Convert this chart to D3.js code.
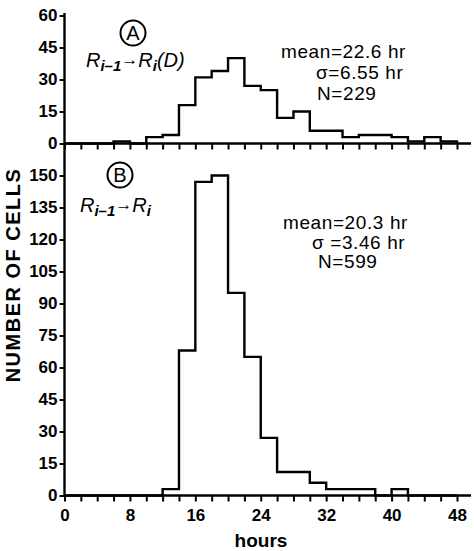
<!DOCTYPE html>
<html lang="en">
<head>
<meta charset="utf-8">
<title>Cell cycle histograms</title>
<script src="https://cdn.jsdelivr.net/npm/d3@7"></script>
<style>
  body { margin: 0; background: #fff; }
  svg text { font-family: "Liberation Sans", Arial, sans-serif; fill: #000; }
</style>
</head>
<body>
<svg id="chart" width="474" height="551"></svg>
<script>
// bin start (hours), bins are 2 hr wide
var hours = [0, 2, 4, 6, 8, 10, 12, 14, 16, 18, 20, 22, 24, 26, 28, 30, 32, 34, 36, 38, 40, 42, 44, 46];
// panel A : Ri-1 -> Ri(D)
var countsA = [0, 0, 0, 1, 0, 3, 4, 18, 31, 34, 40, 27, 25, 12, 15, 6, 6, 3, 4, 4, 3, 1, 3, 1];
// panel B : Ri-1 -> Ri
var countsB = [0, 0, 0, 0, 0, 0, 3, 68, 147, 150, 95, 65, 27, 11, 11, 6, 3, 3, 3, 0, 3, 0, 0, 0];

var xTicks = [0, 2, 4, 6, 8, 10, 12, 14, 16, 18, 20, 22, 24, 26, 28, 30, 32, 34, 36, 38, 40, 42, 44, 46, 48];
var xLabels = [0, 8, 16, 24, 32, 40, 48];
var yTicksA = [0, 15, 30, 45, 60];
var yTicksB = [0, 15, 30, 45, 60, 75, 90, 105, 120, 135, 150];

var statsA = ["mean=22.6 hr", "\u03c3=6.55 hr", "N=229"];
var statsB = ["mean=20.3 hr", "\u03c3 =3.46 hr", "N=599"];

var svg = d3.select("#chart");

var x = d3.scaleLinear().domain([0, 48]).range([64.5, 457]);
var yA = d3.scaleLinear().domain([0, 60]).range([143.5, 15.5]);
var yB = d3.scaleLinear().domain([0, 150]).range([495.5, 175.5]);

var sw = 2.4;

// x axes (minor ticks every 2 hr)
function xAxis(y0, withLabels) {
  var ax = d3.axisBottom(x).tickValues(xTicks).tickSize(6).tickSizeOuter(0)
    .tickFormat(function(d){ return withLabels && xLabels.indexOf(d) >= 0 ? d : ""; });
  var g = svg.append("g").attr("transform", "translate(0," + y0 + ")").call(ax);
  g.select(".domain").remove();
  g.selectAll(".tick line").attr("stroke", "#000").attr("stroke-width", 2);
  g.selectAll(".tick text").attr("dy", "0.95em").style("font-size", "17px").style("font-weight", "bold");
  svg.append("line").attr("x1", x(0)).attr("x2", x(48) + 14)
    .attr("y1", y0).attr("y2", y0).attr("stroke", "#000").attr("stroke-width", sw);
}
xAxis(yA(0), false);
xAxis(yB(0), true);

// y axes
function yAxis(scale, vals) {
  var ax = d3.axisLeft(scale).tickValues(vals).tickSize(5).tickSizeOuter(0);
  var g = svg.append("g").attr("transform", "translate(" + x(0) + ",0)").call(ax);
  g.select(".domain").remove();
  g.selectAll(".tick line").attr("stroke", "#000").attr("stroke-width", 2);
  g.selectAll(".tick text").attr("x", -7).style("font-size", "17px").style("font-weight", "bold");
}
yAxis(yA, yTicksA);
yAxis(yB, yTicksB);
svg.append("line").attr("x1", x(0)).attr("x2", x(0)).attr("y1", 13).attr("y2", yB(0) + 1)
  .attr("stroke", "#000").attr("stroke-width", sw);

// histogram outlines
function steps(counts, y) {
  var line = d3.line().x(function(d){ return x(d[0]); }).y(function(d){ return y(d[1]); })
    .curve(d3.curveStepAfter);
  var p = hours.map(function(h, i){ return [h, counts[i]]; });
  p.push([48, 0]);
  svg.append("path").attr("d", line(p)).attr("fill", "none")
    .attr("stroke", "#000").attr("stroke-width", sw);
}
steps(countsA, yA);
steps(countsB, yB);

// panel letters
function letter(cx, cy, t) {
  svg.append("circle").attr("cx", cx).attr("cy", cy).attr("r", 12.5)
    .attr("fill", "none").attr("stroke", "#000").attr("stroke-width", 2);
  svg.append("text").attr("x", cx).attr("y", cy + 7).attr("text-anchor", "middle")
    .style("font-size", "20px").text(t);
}
letter(133, 33, "A");
letter(120, 175, "B");

// transition labels
function trans(x0, y0, tail) {
  var t = svg.append("text").attr("x", x0).attr("y", y0)
    .style("font-size", "20px").style("font-style", "italic");
  t.append("tspan").text("R");
  t.append("tspan").attr("dy", 4).style("font-size", "15px").style("font-weight", "bold").text("i\u20131");
  t.append("tspan").attr("dy", -6).style("font-size", "17px").style("font-weight", "bold").text("\u2192");
  t.append("tspan").attr("dy", 2).text("R");
  t.append("tspan").attr("dy", 4).style("font-size", "15px").style("font-weight", "bold").text("i");
  if (tail) t.append("tspan").attr("dy", -4).text(tail);
}
trans(86, 67, "(D)");
trans(80, 212, null);

// statistics
function stats(lines, xs, ys) {
  lines.forEach(function(s, i){
    svg.append("text").attr("x", xs[i]).attr("y", ys[i])
      .style("font-size", "19px").style("letter-spacing", "0.6px").text(s);
  });
}
stats(statsA, [281, 316, 317], [58, 79, 100]);
stats(statsB, [283, 312, 318], [229, 249, 268]);

// axis titles
svg.append("text").attr("transform", "translate(20,275) rotate(-90)")
  .attr("text-anchor", "middle").style("font-size", "20px").style("font-weight", "bold")
  .style("letter-spacing", "1.5px").text("NUMBER OF CELLS");
svg.append("text").attr("x", 261).attr("y", 547).attr("text-anchor", "middle")
  .style("font-size", "19px").style("font-weight", "bold").text("hours");
</script>
</body>
</html>
